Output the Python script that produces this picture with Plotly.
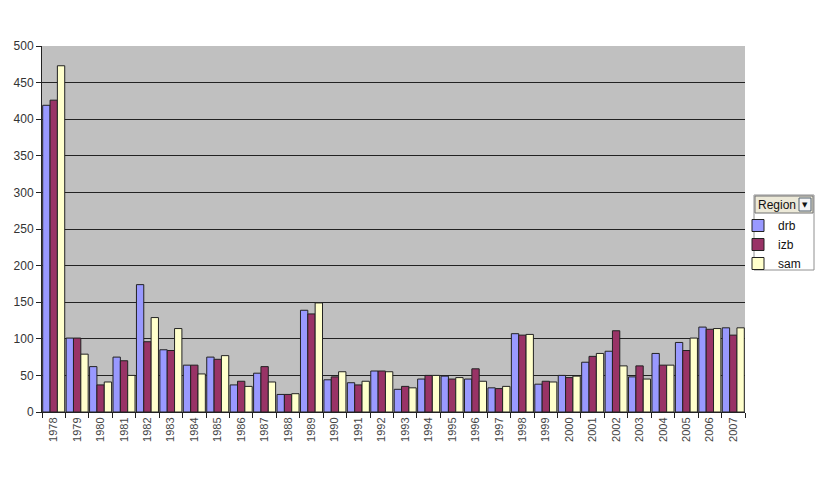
import plotly.graph_objects as go

years = [str(y) for y in range(1978, 2008)]
drb = [419, 101, 62, 75, 174, 85, 64, 75, 37, 53, 24, 139, 44, 40, 56, 31,
       45, 49, 45, 33, 107, 38, 50, 68, 83, 48, 80, 95, 116, 115]
izb = [426, 101, 37, 70, 96, 84, 64, 72, 42, 62, 24, 134, 48, 37, 56, 35,
       50, 45, 59, 32, 105, 42, 47, 76, 111, 63, 64, 84, 113, 105]
sam = [473, 79, 41, 50, 129, 114, 52, 77, 35, 41, 25, 149, 55, 42, 55, 33,
       50, 47, 42, 35, 106, 41, 49, 80, 63, 45, 64, 101, 114, 115]

series = [("drb", drb, "#9999FF"), ("izb", izb, "#993366"), ("sam", sam, "#FFFFCC")]

fig = go.Figure()
for name, vals, col in series:
    fig.add_trace(go.Bar(x=years, y=vals, name=name,
                         marker=dict(color=col, line=dict(color="#222222", width=1))))

font = "Liberation Sans, Arial, sans-serif"

# page offset of 8px (body margin); plot area on page spans 42..745 x, 46..412 y
def px_x(p):
    return (p - 42) / 703.0

def px_y(p):
    return (412 - p) / 366.0

shapes = [
    dict(type="rect", xref="paper", yref="paper", layer="below",
         x0=px_x(754), x1=px_x(814), y0=px_y(270), y1=px_y(195),
         fillcolor="white", line=dict(color="#909090", width=1)),
    dict(type="rect", xref="paper", yref="paper", layer="below",
         x0=px_x(755), x1=px_x(813), y0=px_y(213), y1=px_y(196),
         fillcolor="#ECE9D8", line=dict(color="#707070", width=1)),
    dict(type="rect", xref="paper", yref="paper", layer="below",
         x0=px_x(799), x1=px_x(811), y0=px_y(211), y1=px_y(198),
         fillcolor="#F4F4F4", line=dict(color="#506070", width=1)),
]
annotations = [
    dict(text="Region", xref="paper", yref="paper", x=px_x(756), y=px_y(204.5),
         xanchor="left", yanchor="middle", showarrow=False,
         font=dict(size=12, color="#111111", family=font)),
    dict(text="▼", xref="paper", yref="paper", x=px_x(805), y=px_y(205),
         xanchor="center", yanchor="middle", showarrow=False,
         font=dict(size=7, color="#111111", family="DejaVu Sans")),
]

fig.update_layout(
    width=826, height=486,
    margin=dict(l=34, r=89, t=38, b=82, autoexpand=False),
    paper_bgcolor="white", plot_bgcolor="#C0C0C0",
    barmode="group", bargap=0.06, bargroupgap=0,
    font=dict(family=font, size=11, color="#222222"),
    showlegend=True,
    shapes=shapes, annotations=annotations,
    legend=dict(x=px_x(744), xanchor="left", y=px_y(211), yanchor="top",
                bgcolor="rgba(0,0,0,0)", borderwidth=0,
                font=dict(size=12, color="#111111"),
                tracegroupgap=0, itemwidth=30, indentation=-6),
    xaxis=dict(type="category", tickangle=-90, showline=True, linecolor="#222222",
               linewidth=1, ticks="outside", ticklen=5, tickcolor="#222222",
               tickson="boundaries", showgrid=False, automargin=False,
               tickfont=dict(size=11, color="#444444")),
    yaxis=dict(range=[0, 500], dtick=50, showline=True, linecolor="#222222",
               linewidth=1, ticks="outside", ticklen=5, tickcolor="#222222",
               gridcolor="#222222", gridwidth=1, zeroline=False, automargin=False,
               tickfont=dict(size=12, color="#333333")),
)
fig.write_html("out.html")
